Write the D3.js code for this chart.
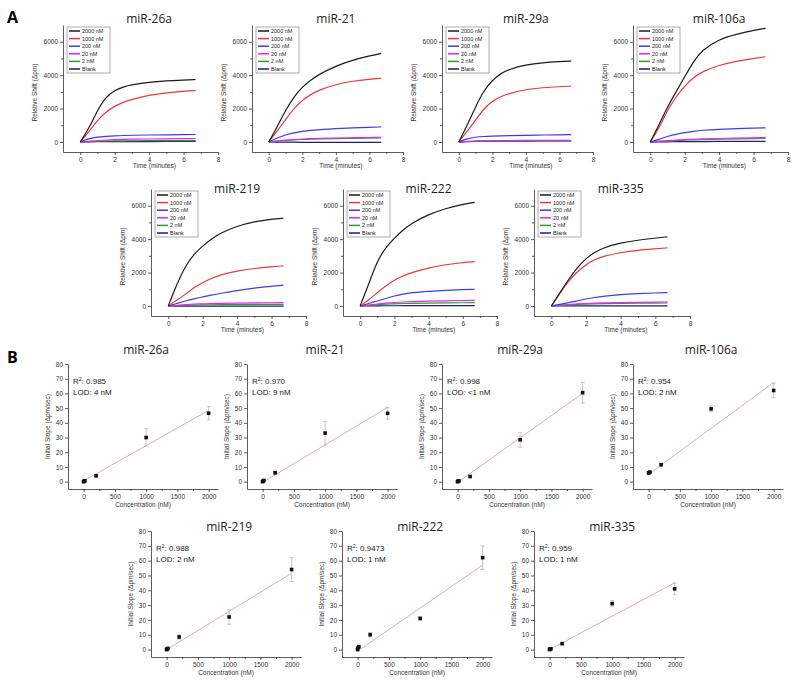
<!DOCTYPE html>
<html><head><meta charset="utf-8">
<script src="https://cdn.jsdelivr.net/npm/d3@7"></script>
<style>body{margin:0;background:#fff;} svg{display:block;}</style>
</head><body>
<svg id="c" width="800" height="686"></svg>
<script>
// ---------- DATA: panel A (relative shift vs time) ----------
const times = [0, 0.5, 1, 1.5, 2, 2.5, 3, 4, 5, 6, 6.7];
const concNames = ["2000 nM", "1000 nM", "200 nM", "20 nM", "2 nM", "Blank"];
const concColors = ["#1b1b1b", "#e53b3b", "#3c3cf0", "#ee22ee", "#2a9f2a", "#1d1d7c"];
const mirTitles = ["miR-26a", "miR-21", "miR-29a", "miR-106a", "miR-219", "miR-222", "miR-335"];

const mir26aShift = [
  [0, 800, 1900, 2700, 3100, 3300, 3420, 3580, 3660, 3710, 3740],
  [0, 600, 1300, 1800, 2150, 2380, 2550, 2800, 2950, 3040, 3080],
  [0, 200, 300, 340, 370, 390, 400, 420, 430, 440, 450],
  [0, 40, 80, 110, 140, 155, 165, 180, 190, 195, 200],
  [0, 20, 40, 55, 65, 70, 72, 76, 78, 80, 80],
  [0, 10, 15, 20, 22, 24, 25, 27, 28, 30, 30]];
const mir21Shift = [
  [0, 900, 1900, 2700, 3300, 3700, 4050, 4550, 4900, 5150, 5300],
  [0, 650, 1350, 2000, 2500, 2850, 3100, 3450, 3650, 3760, 3820],
  [0, 250, 430, 550, 640, 700, 740, 800, 850, 880, 900],
  [0, 60, 110, 150, 180, 200, 215, 240, 255, 270, 280],
  [0, 50, 90, 120, 150, 165, 180, 200, 215, 230, 240],
  [0, -5, -10, -15, -20, -20, -20, -20, -20, -20, -20]];
const mir29aShift = [
  [0, 1000, 2100, 3100, 3700, 4100, 4350, 4620, 4750, 4810, 4840],
  [0, 650, 1300, 2000, 2450, 2720, 2900, 3150, 3250, 3310, 3340],
  [0, 200, 290, 330, 350, 370, 380, 400, 420, 430, 440],
  [0, 40, 60, 70, 80, 85, 88, 92, 95, 98, 100],
  [0, 30, 45, 55, 60, 63, 65, 68, 70, 72, 72],
  [0, 25, 40, 45, 50, 52, 54, 56, 58, 60, 60]];
const mir106aShift = [
  [0, 1000, 2100, 3000, 3900, 4800, 5500, 6150, 6450, 6680, 6800],
  [0, 800, 1900, 2700, 3360, 3850, 4200, 4600, 4840, 5000, 5100],
  [0, 150, 340, 460, 560, 640, 700, 760, 800, 830, 840],
  [0, 40, 80, 110, 140, 160, 180, 210, 230, 250, 260],
  [0, 30, 60, 85, 110, 125, 140, 165, 185, 200, 210],
  [0, 5, 10, 15, 20, 22, 25, 30, 35, 38, 40]];
const mir219Shift = [
  [0, 1300, 2400, 3100, 3600, 4000, 4350, 4780, 5050, 5200, 5250],
  [0, 350, 700, 1100, 1400, 1650, 1850, 2100, 2250, 2350, 2400],
  [0, 150, 300, 430, 540, 650, 750, 930, 1070, 1180, 1240],
  [0, 40, 80, 110, 130, 145, 160, 175, 185, 195, 200],
  [0, 20, 40, 55, 65, 72, 78, 85, 90, 95, 100],
  [0, -5, -8, -10, -10, -10, -10, -10, -10, -10, -10]];
const mir222Shift = [
  [0, 1300, 2700, 3500, 4050, 4550, 4950, 5480, 5840, 6080, 6200],
  [0, 350, 800, 1200, 1550, 1800, 2000, 2280, 2480, 2600, 2640],
  [0, 150, 300, 450, 600, 720, 800, 880, 940, 980, 1000],
  [0, 60, 120, 170, 210, 240, 260, 290, 310, 330, 340],
  [0, 40, 80, 110, 130, 150, 160, 175, 185, 195, 200],
  [0, 5, 10, 12, 15, 15, 15, 15, 15, 15, 15]];
const mir335Shift = [
  [0, 800, 1600, 2300, 2850, 3220, 3480, 3780, 3940, 4060, 4140],
  [0, 780, 1500, 2050, 2480, 2780, 2980, 3200, 3340, 3420, 3480],
  [0, 100, 200, 310, 420, 510, 580, 680, 740, 780, 800],
  [0, 50, 90, 125, 150, 170, 185, 205, 220, 232, 240],
  [0, 40, 70, 95, 115, 130, 140, 155, 165, 175, 180],
  [0, 5, 8, 10, 10, 10, 10, 10, 10, 10, 10]];
const shiftData = [mir26aShift, mir21Shift, mir29aShift, mir106aShift, mir219Shift, mir222Shift, mir335Shift];

const timeTicks = [0, 2, 4, 6, 8];
const timeMinor = [1, 3, 5, 7];
const shiftTicks = [0, 2000, 4000, 6000];
const shiftMinor = [1000, 3000, 5000];

// ---------- DATA: panel B (initial slope vs concentration) ----------
const concentrations = [0, 2, 20, 200, 1000, 2000];
const mir26aSlope = [0, 0.2, 0.6, 4, 30, 46.5];
const mir21Slope = [0, 0.3, 0.8, 6, 33, 46.5];
const mir29aSlope = [0, 0.2, 0.5, 3.5, 28.5, 60.5];
const mir106aSlope = [6, 6, 6.5, 11.5, 49.5, 62];
const mir219Slope = [0, 0.3, 0.8, 8.5, 22, 54];
const mir222Slope = [0, 1, 2, 10, 21, 62];
const mir335Slope = [0, 0.3, 0.5, 4, 31, 41];
const mir26aErr = [0.3, 0.3, 0.5, 0.8, 6, 4.5];
const mir21Err = [0.3, 0.3, 0.5, 1, 8, 4];
const mir29aErr = [0.3, 0.3, 0.5, 0.8, 5, 7];
const mir106aErr = [0.5, 0.5, 0.8, 1, 2, 5];
const mir219Err = [0.3, 0.3, 0.5, 1.5, 5, 8];
const mir222Err = [0.5, 0.5, 0.8, 1.5, 1.2, 8];
const mir335Err = [0.3, 0.3, 0.5, 0.8, 2, 4];
const slopeData = [mir26aSlope, mir21Slope, mir29aSlope, mir106aSlope, mir219Slope, mir222Slope, mir335Slope];
const errData = [mir26aErr, mir21Err, mir29aErr, mir106aErr, mir219Err, mir222Err, mir335Err];
const fitConc = [0, 2000];
const fitValues = [[0.5, 48.5], [-0.5, 50.5], [-0.5, 60], [5, 67.5], [0, 51.5], [-1, 57], [0, 45]];
const r2Labels = ["0.985", "0.970", "0.998", "0.954", "0.988", "0.9473", "0.959"];
const lodLabels = ["4 nM", "9 nM", "<1 nM", "2 nM", "2 nM", "1 nM", "1 nM"];
const concTicks = [0, 500, 1000, 1500, 2000];
const concMinor = [250, 750, 1250, 1750];
const slopeTicks = [0, 10, 20, 30, 40, 50, 60, 70, 80];

// ---------- LAYOUT ----------
const layoutA = [
  {x: 63, w: 155, top: 25, bot: 152, ty: 23},
  {x: 252, w: 151, top: 25, bot: 152, ty: 23},
  {x: 442, w: 151, top: 25, bot: 152, ty: 23},
  {x: 633, w: 155, top: 25, bot: 152, ty: 23},
  {x: 151, w: 155, top: 189, bot: 316, ty: 193},
  {x: 343, w: 154, top: 189, bot: 316, ty: 193},
  {x: 534, w: 156, top: 189, bot: 316, ty: 193}];
const layoutB = [
  {x: 68, top: 364, bot: 489, ty: 354},
  {x: 247, top: 364, bot: 489, ty: 354},
  {x: 442, top: 364, bot: 489, ty: 354},
  {x: 633, top: 364, bot: 489, ty: 354},
  {x: 151, top: 531, bot: 657, ty: 531},
  {x: 342, top: 531, bot: 657, ty: 531},
  {x: 534, top: 531, bot: 657, ty: 531}];

const svg = d3.select("#c");
const tickFont = "Liberation Sans, Arial, sans-serif";
const titleFont = "Open Sans, sans-serif";
const intFmt = d3.format("d");

function styleAxis(g) {
  g.selectAll("path,line").attr("stroke", "#333").attr("stroke-width", 0.8);
  g.selectAll("text").attr("font-family", tickFont).attr("font-size", 6.5).attr("fill", "#333");
}

svg.append("text").attr("x", 7).attr("y", 23).text("A")
  .attr("font-family", titleFont).attr("font-weight", "bold").attr("font-size", 16);
svg.append("text").attr("x", 7).attr("y", 363).text("B")
  .attr("font-family", titleFont).attr("font-weight", "bold").attr("font-size", 16);

// ---------- Panel A ----------
layoutA.forEach((L, i) => {
  const g = svg.append("g");
  const x = d3.scaleLinear().domain([-1, 8]).range([L.x, L.x + L.w]);
  const y = d3.scaleLinear().domain([-600, 7000]).range([L.bot, L.top]);

  const xa = g.append("g").attr("transform", `translate(0,${L.bot})`)
    .call(d3.axisBottom(x).tickValues(timeTicks).tickSize(3).tickSizeOuter(0).tickPadding(2).tickFormat(intFmt));
  styleAxis(xa);
  const xm = g.append("g").attr("transform", `translate(0,${L.bot})`)
    .call(d3.axisBottom(x).tickValues(timeMinor).tickSize(2).tickFormat(""));
  styleAxis(xm); xm.select("path").remove();
  const ya = g.append("g").attr("transform", `translate(${L.x},0)`)
    .call(d3.axisLeft(y).tickValues(shiftTicks).tickSize(3).tickSizeOuter(0).tickPadding(2).tickFormat(intFmt));
  styleAxis(ya);
  const ym = g.append("g").attr("transform", `translate(${L.x},0)`)
    .call(d3.axisLeft(y).tickValues(shiftMinor).tickSize(2).tickFormat(""));
  styleAxis(ym); ym.select("path").remove();

  const line = d3.line().x((d, k) => x(times[k])).y(d => y(d)).curve(d3.curveBasis);
  const data = shiftData[i];
  for (let s = data.length - 1; s >= 0; s--) {
    g.append("path").attr("d", line(data[s])).attr("fill", "none")
      .attr("stroke", concColors[s]).attr("stroke-width", 1.2);
  }

  g.append("text").attr("x", x(4)).attr("y", L.ty).attr("text-anchor", "middle")
    .attr("font-family", titleFont).attr("font-size", 12).attr("fill", "#222").text(mirTitles[i]);
  g.append("text").attr("x", x(4.3)).attr("y", L.bot + 16).attr("text-anchor", "middle")
    .attr("font-family", tickFont).attr("font-size", 6.5).attr("fill", "#333").text("Time (minutes)");
  g.append("text").attr("transform", `translate(${L.x - 26},${(L.top + L.bot) / 2 + 4}) rotate(-90)`)
    .attr("text-anchor", "middle").attr("font-family", tickFont).attr("font-size", 6.5).attr("fill", "#333")
    .text("Relative Shift (\u0394pm)");

  const bx = L.x + 4, by = L.top + 2;
  const lg = g.append("g");
  lg.append("rect").attr("x", bx).attr("y", by).attr("width", 43).attr("height", 46)
    .attr("fill", "#fff").attr("stroke", "#777").attr("stroke-width", 0.6);
  concNames.forEach((n, k) => {
    const yy = by + 4 + k * 7.6;
    lg.append("line").attr("x1", bx + 2).attr("x2", bx + 13).attr("y1", yy).attr("y2", yy)
      .attr("stroke", concColors[k]).attr("stroke-width", 1.5);
    lg.append("text").attr("x", bx + 15).attr("y", yy + 2).attr("font-family", tickFont)
      .attr("font-size", 5.5).attr("fill", "#222").text(n);
  });
});

// ---------- Panel B ----------
layoutB.forEach((L, i) => {
  const g = svg.append("g");
  const x = d3.scaleLinear().domain([-250, 2150]).range([L.x, L.x + 150]);
  const y = d3.scaleLinear().domain([-5, 80]).range([L.bot, L.top]);

  const xa = g.append("g").attr("transform", `translate(0,${L.bot})`)
    .call(d3.axisBottom(x).tickValues(concTicks).tickSize(3).tickSizeOuter(0).tickPadding(2).tickFormat(intFmt));
  styleAxis(xa);
  const xm = g.append("g").attr("transform", `translate(0,${L.bot})`)
    .call(d3.axisBottom(x).tickValues(concMinor).tickSize(2).tickFormat(""));
  styleAxis(xm); xm.select("path").remove();
  const ya = g.append("g").attr("transform", `translate(${L.x},0)`)
    .call(d3.axisLeft(y).tickValues(slopeTicks).tickSize(3).tickSizeOuter(0).tickPadding(2).tickFormat(intFmt));
  styleAxis(ya);

  g.append("line").attr("x1", x(fitConc[0])).attr("x2", x(fitConc[1]))
    .attr("y1", y(fitValues[i][0])).attr("y2", y(fitValues[i][1]))
    .attr("stroke", "#f0a8a8").attr("stroke-width", 1);

  const vals = slopeData[i], errs = errData[i];
  concentrations.forEach((c, k) => {
    const cx = x(c), y1 = y(vals[k] - errs[k]), y2 = y(vals[k] + errs[k]);
    g.append("line").attr("x1", cx).attr("x2", cx).attr("y1", y1).attr("y2", y2)
      .attr("stroke", "#b8b8b8").attr("stroke-width", 0.8);
    [y1, y2].forEach(yy => g.append("line").attr("x1", cx - 2).attr("x2", cx + 2)
      .attr("y1", yy).attr("y2", yy).attr("stroke", "#b8b8b8").attr("stroke-width", 0.8));
  });
  g.selectAll("rect.pt").data(concentrations).enter().append("rect")
    .attr("x", (c) => x(c) - 1.8).attr("y", (c, k) => y(vals[k]) - 1.8)
    .attr("width", 3.6).attr("height", 3.6).attr("fill", "#111");

  g.append("text").attr("x", x(1000)).attr("y", L.ty).attr("text-anchor", "middle")
    .attr("font-family", titleFont).attr("font-size", 12).attr("fill", "#222").text(mirTitles[i]);
  g.append("text").attr("x", x(950)).attr("y", L.bot + 18).attr("text-anchor", "middle")
    .attr("font-family", tickFont).attr("font-size", 6.5).attr("fill", "#333").text("Concentration (nM)");
  g.append("text").attr("transform", `translate(${L.x - 18},${(L.top + L.bot) / 2}) rotate(-90)`)
    .attr("text-anchor", "middle").attr("font-family", tickFont).attr("font-size", 6.5).attr("fill", "#333")
    .text("Initial Slope (\u0394pm/sec)");

  const t1 = g.append("text").attr("x", L.x + 5).attr("y", L.top + 20)
    .attr("font-family", tickFont).attr("font-size", 8).attr("fill", "#222");
  t1.append("tspan").text("R");
  t1.append("tspan").attr("dy", -3).attr("font-size", 5).text("2");
  t1.append("tspan").attr("dy", 3).text(": " + r2Labels[i]);
  g.append("text").attr("x", L.x + 5).attr("y", L.top + 31)
    .attr("font-family", tickFont).attr("font-size", 8).attr("fill", "#222").text("LOD: " + lodLabels[i]);
});
</script>
</body></html>
